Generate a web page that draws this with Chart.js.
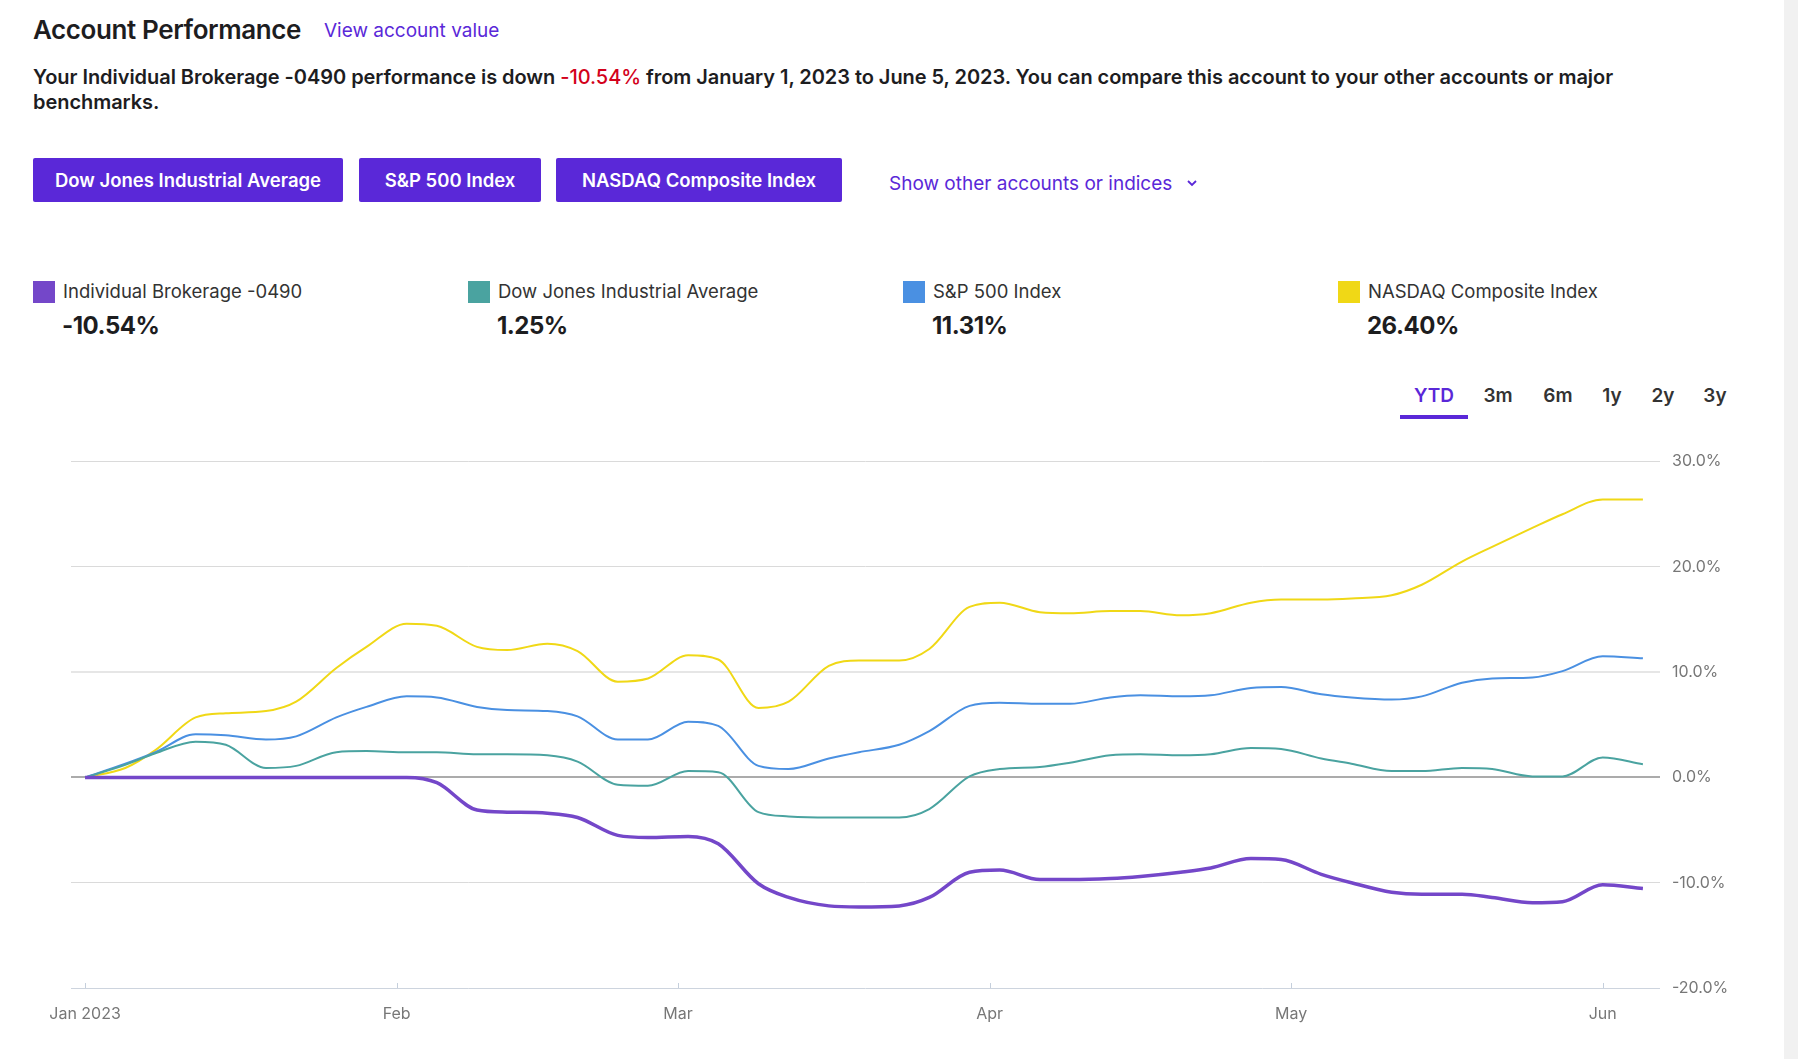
<!DOCTYPE html>
<html>
<head>
<meta charset="utf-8">
<title>Account Performance</title>
<script src="https://cdn.jsdelivr.net/npm/chart.js@4.4.0/dist/chart.umd.min.js"></script>
<style>
  body { margin: 0; width: 1798px; height: 1059px; overflow: hidden; position: relative; background: #fff;
         font-family: Inter, "Noto Sans", sans-serif; color: #1d1d1f; }
  .abs { position: absolute; white-space: nowrap; }
  h1 { position: absolute; left: 33px; top: 14px; margin: 0; font-size: 26px; font-weight: 600; letter-spacing: -0.4px; }
  .link { color: #5a28d8; }
  .intro { position: absolute; left: 33px; top: 65px; font-size: 20px; font-weight: 600; line-height: 25px; white-space: nowrap; letter-spacing: -0.05px; }
  .neg { color: #d3011b; font-weight: 500; }
  .btn { position: absolute; top: 158px; height: 44px; background: #5a28d8; color: #fff; border-radius: 2px;
         font-size: 18.5px; font-weight: 600; display: flex; align-items: center; justify-content: center; }
  .sq { position: absolute; top: 281px; width: 22px; height: 22px; }
  .lg { position: absolute; top: 280px; font-size: 18.5px; color: #333; white-space: nowrap; }
  .val { position: absolute; top: 311px; font-size: 24px; font-weight: 700; letter-spacing: -0.5px; }
  .tab { position: absolute; top: 384px; font-size: 19px; font-weight: 600; color: #333; transform: translateX(-50%); }
  #wrap { position: absolute; left: 0; top: 440px; width: 1780px; height: 600px; }
  .strip { position: absolute; left: 1784px; top: 0; width: 14px; height: 1059px; background: #f1f1f1; }
</style>
</head>
<body>
<h1>Account Performance</h1>
<div class="abs link" style="left:324px; top:19px; font-size:19px;">View account value</div>
<div class="intro">Your Individual Brokerage -0490 performance is down <span class="neg">-10.54%</span> from January 1, 2023 to June 5, 2023. You can compare this account to your other accounts or major<br>benchmarks.</div>

<div class="btn" style="left:33px; width:310px;">Dow Jones Industrial Average</div>
<div class="btn" style="left:359px; width:182px;">S&amp;P 500 Index</div>
<div class="btn" style="left:556px; width:286px;">NASDAQ Composite Index</div>
<div class="abs link" style="left:889px; top:172px; font-size:19px;">Show other accounts or indices
  <svg width="12" height="8" viewBox="0 0 12 8" style="margin-left:8px; vertical-align:3px"><path d="M2 2 L6 6 L10 2" stroke="#5a28d8" stroke-width="1.8" fill="none"/></svg></div>

<div id="legend"></div>

<div class="tab" style="left:1434px; color:#5a28d8">YTD</div>
<div class="tab" style="left:1498px">3m</div>
<div class="tab" style="left:1558px">6m</div>
<div class="tab" style="left:1612px">1y</div>
<div class="tab" style="left:1663px">2y</div>
<div class="tab" style="left:1715px">3y</div>
<div class="abs" style="left:1400px; top:415px; width:68px; height:4px; background:#5a28d8"></div>

<div id="wrap"><canvas id="perfChart"></canvas></div>
<div class="strip"></div>

<script>
// days since Jan 1, 2023
const days = [0, 4, 7, 11, 14, 18, 21, 25, 28, 32, 35, 39, 42, 46, 49, 53, 56, 60, 63, 67, 70, 74, 77,
  81, 84, 88, 91, 95, 98, 102, 105, 109, 112, 116, 119, 123, 126, 130, 133, 137, 140, 144, 147, 151, 155];

const brokerage = [0, 0, 0, 0, 0, 0, 0, 0, 0, 0, -0.5, -3.1, -3.3, -3.4, -3.8, -5.5, -5.7, -5.6, -6.3, -10.1, -11.4, -12.2, -12.3,
  -12.2, -11.4, -9.0, -8.8, -9.7, -9.7, -9.6, -9.4, -9.0, -8.6, -7.7, -7.8, -9.2, -10.0, -10.9, -11.1, -11.1, -11.4, -11.9, -11.8, -10.2, -10.54];
const dowJones = [0, 1.2, 2.3, 3.4, 3.1, 0.9, 1.1, 2.4, 2.5, 2.4, 2.4, 2.2, 2.2, 2.1, 1.5, -0.7, -0.8, 0.6, 0.5, -3.3, -3.7, -3.8, -3.8,
  -3.8, -3.0, 0.1, 0.8, 1.0, 1.4, 2.1, 2.2, 2.1, 2.2, 2.8, 2.7, 1.8, 1.3, 0.6, 0.6, 0.9, 0.8, 0.1, 0.1, 1.9, 1.25];
const sp500 = [0, 1.3, 2.4, 4.1, 4.0, 3.6, 3.9, 5.7, 6.7, 7.7, 7.6, 6.7, 6.4, 6.3, 5.8, 3.6, 3.6, 5.3, 4.9, 1.1, 0.8, 1.8, 2.4,
  3.1, 4.4, 6.8, 7.1, 7.0, 7.0, 7.6, 7.8, 7.7, 7.8, 8.5, 8.6, 7.9, 7.6, 7.4, 7.7, 9.0, 9.4, 9.5, 10.1, 11.5, 11.31];
const nasdaq = [0, 0.9, 2.6, 5.7, 6.1, 6.3, 7.2, 10.4, 12.4, 14.6, 14.4, 12.4, 12.1, 12.7, 12.0, 9.1, 9.4, 11.6, 11.2, 6.6, 7.2, 10.6, 11.1,
  11.1, 12.2, 16.2, 16.6, 15.7, 15.6, 15.8, 15.8, 15.4, 15.6, 16.6, 16.9, 16.9, 17.0, 17.3, 18.3, 20.5, 21.9, 23.7, 25.0, 26.4, 26.4];

const seriesNames = ['Individual Brokerage -0490', 'Dow Jones Industrial Average', 'S&P 500 Index', 'NASDAQ Composite Index'];
const seriesColors = ['#7447c9', '#4aa3a0', '#4a90e2', '#f0d816'];
const seriesTotals = ['-10.54%', '1.25%', '11.31%', '26.40%'];

const monthDays = [0, 31, 59, 90, 120, 151];
const monthLabels = ['Jan 2023', 'Feb', 'Mar', 'Apr', 'May', 'Jun'];

// html legend
const legendLefts = [33, 468, 903, 1338];
const legend = document.getElementById('legend');
seriesNames.forEach((name, i) => {
  legend.insertAdjacentHTML('beforeend',
    `<div class="sq" style="left:${legendLefts[i]}px;background:${seriesColors[i]}"></div>` +
    `<div class="lg" style="left:${legendLefts[i] + 30}px">${name.replace('&', '&amp;')}</div>` +
    `<div class="val" style="left:${legendLefts[i] + 29}px">${seriesTotals[i]}</div>`);
});

const toPoints = vals => vals.map((v, i) => ({ x: days[i], y: v }));
const seriesValues = [brokerage, dowJones, sp500, nasdaq];

// small tick marks standing on the bottom axis line
const tickMarks = {
  id: 'tickMarks',
  afterDraw(chart) {
    const xs = chart.scales.x, area = chart.chartArea, c = chart.ctx;
    c.save();
    c.strokeStyle = '#c5cfdc';
    c.lineWidth = 1;
    xs.ticks.forEach(t => {
      const px = Math.round(xs.getPixelForValue(t.value)) + 0.5;
      c.beginPath();
      c.moveTo(px, area.bottom - 5);
      c.lineTo(px, area.bottom);
      c.stroke();
    });
    c.restore();
  }
};

const ctx = document.getElementById('perfChart').getContext('2d');
new Chart(ctx, {
  type: 'line',
  data: {
    datasets: seriesValues.map((vals, i) => ({
      label: seriesNames[i],
      data: toPoints(vals),
      borderColor: seriesColors[i],
      borderWidth: i === 0 ? 3.5 : 2,
      pointRadius: 0,
      cubicInterpolationMode: 'monotone',
      fill: false,
    })),
  },
  options: {
    responsive: true,
    maintainAspectRatio: false,
    animation: false,
    layout: { padding: { left: 71, top: 20, right: 0, bottom: 12 } },
    plugins: { legend: { display: false }, tooltip: { enabled: false } },
    scales: {
      x: {
        type: 'linear',
        min: -1.4,
        max: 156.7,
        afterBuildTicks: s => { s.ticks = monthDays.map(v => ({ value: v })); },
        afterFit: s => { s.height = 40; },
        grid: { display: false, drawTicks: false },
        border: { display: false },
        ticks: {
          padding: 17,
          color: '#777',
          font: { family: 'Inter', size: 16 },
          maxRotation: 0,
          autoSkip: false,
          callback: v => monthLabels[monthDays.indexOf(v)],
        },
      },
      y: {
        position: 'right',
        min: -20,
        max: 30,
        afterFit: s => { s.width = 120; },
        border: { display: false },
        grid: {
          drawTicks: false,
          color: c => c.tick.value === 0 ? '#ababab' : (c.tick.value === -20 ? '#cdd4de' : (c.tick.value === 10 ? '#e6e6e6' : '#dadada')),
          lineWidth: c => (c.tick.value === 0 || c.tick.value === 10) ? 2 : 1,
        },
        ticks: {
          stepSize: 10,
          padding: 12,
          color: '#777',
          font: { family: 'Inter', size: 16 },
          callback: v => v.toFixed(1) + '%',
        },
      },
    },
  },
  plugins: [tickMarks],
});
</script>
</body>
</html>
